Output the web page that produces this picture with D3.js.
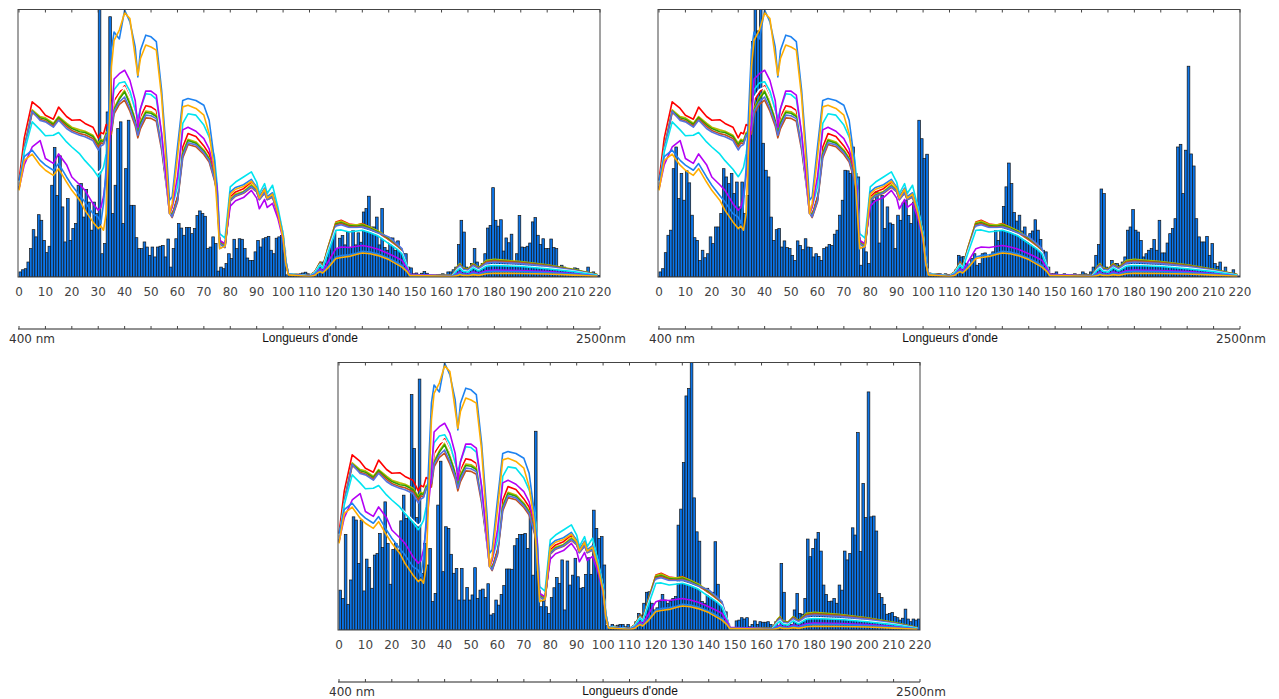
<!DOCTYPE html>
<html><head><meta charset="utf-8">
<script src="https://cdn.jsdelivr.net/npm/d3@7"></script>
<style>body{margin:0;background:#fff;} svg{display:block}</style>
</head><body>
<script>
// ---------- DATA ----------
const tickLabels = [0,10,20,30,40,50,60,70,80,90,100,110,120,130,140,150,160,170,180,190,200,210,220];
const wlStart = "400 nm", wlEnd = "2500nm", wlTitle = "Longueurs d'onde";

const panel1Bars = [
1.9,2.7,3.1,5.6,10.6,17.7,15,23.3,21.2,13.7,
9.1,11.5,34.3,48.4,30.5,45.3,26.2,13.1,29.3,13.7,
18.1,20,34.3,34.9,22.4,32.7,28,17.5,28,23.7,
110,8.7,12.5,61.7,97.3,23.7,34.3,55.5,58,20,
40.5,58.6,26.8,26.8,14.7,10.6,10.6,13.1,11.2,8.1,
11.2,7.5,11.2,11.5,11.8,7.5,14.2,3.7,10.6,14.3,
20,18.3,15.6,18.5,18.5,16.2,18.1,23,24.7,23.7,
22.7,10.6,11.2,15,12.5,2.2,3.7,3.1,5,8.7,
6.9,14.1,10.6,14.3,14.1,10.6,7.1,6.2,6.2,9.4,
13.7,11.2,14.3,14.7,15.2,10,8.7,14.5,15,15.5,
10,0.8,0.5,0.8,1,0.8,1.2,1.5,1.8,1.2,
0.8,1.0,1.8,3.7,5.6,4.8,7.5,10,14.3,17.5,
10.6,14.5,15.5,12,16.8,11,17.5,12,16.5,13,
24.3,25.6,30.2,18.7,18.7,22.4,12,25.6,11,10,
14.6,14.6,10,13.5,10.6,8.7,8.7,3.7,3.4,1.2,
1.5,0.8,1.4,2.0,1.4,0.5,0.5,0.5,0.8,1.0,
1.2,0.6,1.9,1.9,2.7,3.7,12.1,21.2,16.8,3.7,
3.1,5,10.6,5.6,3.7,5,8.7,18.3,19.3,33.4,
21.2,19,21.4,9.7,14.6,12.8,16,5.6,8.7,23,
11.2,11,11.5,12.7,20.6,22.2,15.6,12.1,14.3,10.6,
10.6,14.2,11,10.6,3.7,4.4,3.7,2.2,2.2,2.2,
3.4,3.1,1.2,1.2,1,3.7,1.5,1.9,0.5,0.6];

const panel2Bars = [
1.9,3.1,9.1,15.6,17.5,40.5,48.6,29.3,38.7,28.7,
39.7,35.2,23.1,14.7,13.7,6.2,10,7.2,8.7,15,
12.5,18.7,18.7,23.7,40.5,37.4,34.9,38.7,31.2,35.5,
26.2,35.5,23.7,30.5,60,88,102,92,101,50,
39.9,37.4,22.4,13.7,17.7,18.1,11.2,13.5,11,10.6,
8.1,6.2,13.5,11.8,10.2,14.3,11.2,11,7.5,8.7,
7.7,6.2,10.6,11.2,12.2,11.8,16,17.5,23.1,28.7,
39.9,39.7,38.7,48.6,38.7,37.4,4.4,11.2,9.4,5,
29.3,28.7,31.8,12.7,30.5,18.1,26.2,20.2,19.7,10.6,
23.1,21.2,27.7,28.7,23,20,28,27,58.6,51.7,
44.3,45.9,1.5,0.8,1.2,1.2,1.2,1.0,1.2,0.8,
1.0,1.2,2.7,8.1,7.5,7.7,5,3.7,6.9,8.7,
4.4,5,8.7,9,7.5,8.1,9.4,17.5,13.7,17.5,
26.4,33.7,42.6,34.9,24.1,20.9,23.1,17.2,18.7,14,
16.2,17.2,21.4,17.5,14,10,9.4,3.7,1.2,1.2,
1.9,0.6,0.6,1.2,1.0,0.6,1.0,1.2,0.6,1.0,
1.9,1.2,1.0,1.9,3.7,8.1,12.1,32.9,31.2,3.7,
3.1,6.2,5,5,4.4,5.6,7.5,17.5,18.7,25.2,
17.5,16.8,13.7,7.5,8.7,10,10.6,14,10,21.2,
9,9,12.7,16.2,18.1,21.8,48.6,49.6,31.2,47.4,
78.8,46,41.5,21.8,15,13.1,13.1,15.2,8.1,12.5,
5,4,5.6,2.2,3.7,1,0.4,2.7,0.6,0.4];

const panel3Bars = [
14.9,11.8,35.7,9.6,18.7,42.3,41.1,24.9,41.1,14.6,
26.5,23.4,15.6,28,28.6,36.1,30.8,47.9,32.4,17.1,
30.1,32.4,29.9,40.8,50.4,41.7,42.2,88,67.9,42,
93.8,21.2,32.4,24.3,30.5,10.6,13.7,46.7,63.1,21.8,
38.6,38,28.3,21.2,23,11.2,23,11.2,15.9,11.2,
13.1,23.3,11.8,14.9,15.3,12.1,17.3,5.6,6.1,11.2,
9.3,13.3,16.6,22.8,22.8,22.7,31.5,34.2,35.7,35.7,
36.1,30.5,43.2,20.5,74.3,21.8,8.7,10.8,8.7,6.2,
12.1,15.8,19.6,17.4,26.2,7.5,25.8,16.8,20.5,26.8,
19.9,15.6,15.9,20.8,27,20.8,44.8,38,34.2,34.9,
24.3,1.6,1.2,2.1,1.5,1.8,2.1,2.1,1.2,2.1,
0.5,0.9,3.1,6.2,5.6,10,14.1,14.3,10,7.5,
8.3,10.6,13.3,11.2,10,10.6,11.8,12.5,39.2,45.2,
62.6,87.5,90.3,103,49.4,36.7,33.2,10.6,10,15.6,
13.1,14.1,33,17.1,10.6,7.5,6.8,1.9,0.9,0.9,
3.4,3.7,4.6,4.1,4.6,1.2,2.1,3.4,2.1,3.1,
2.9,2.9,3.1,2.1,0.9,3.1,0.9,24.9,14.1,1.9,
1.6,2.1,7.5,13.7,6.2,5.9,11.8,34,27.4,30.5,
34,36.5,29.5,16.8,13.3,10.6,10.8,11.8,10,16.8,
14.9,29.5,26.2,28.6,38.2,35.5,73.8,29.3,54.8,42,
89,42.3,42.6,37,13.7,12.1,9.6,5.9,6.2,6.6,
5,4.6,3.7,4.4,7.8,4.1,3.1,4.1,3.7,4.1];

const curveBands = [
0,2,5,8,10,13,15,18,20,23,
25,28,30,31,32,33,35,36,38,40,
42,44,45,46,48,50,52,54,56,57,
58,60,62,64,67,70,72,74,75,76,
78,80,82,85,88,90,91,93,94,96,
98,100,101,102,110,112,113,114,115,117,
120,122,125,128,130,133,136,140,143,145,
147,148,164,166,167,168,170,172,174,177,
180,190,200,210,219];

const curveRed = [
36,52,65.5,63,60.5,59,63.5,60,58.6,58.8,
57.4,56,52,54,53.5,57,56,66,69,71.5,
67,61,55.5,60,64,63.6,62.3,51,35,26,
23.7,30,48.6,53.6,52.5,49,46,38.7,33.7,13.7,
11.8,30,31.8,33,35.5,33.7,30,33,30,31.2,
25,16.2,6.2,1.2,0.5,1.9,3.7,5.6,3.7,11,
20.6,21.2,19.8,19.4,20,18.5,17,14.3,11.8,10,
3.7,0.6,0.5,3.5,4.5,3,2.5,4.5,3,5.5,
6,5.3,4.2,2.6,0.8];
const curveOlive = [
34,48.5,62.5,60,59.5,57.5,60,57.5,56,55,
54.5,53,50,51.5,51,54,55,63,67,69.8,
65,59,54,58,62,61.8,60.5,49.5,34,25,
23,29,46.5,51.5,50.5,47.5,44.5,37.5,32.5,13,
11.5,29,31,32,34.5,32.5,29.5,32,29.5,30.5,
24,15.5,6,1.2,0.5,1.9,3.8,5.5,4,11,
20.4,20.9,19.6,19.5,19.8,18.6,17.2,14.5,12,10.2,
4,0.7,0.6,4,5,3.4,3,5,3.5,6.2,
6.6,5.8,4.6,2.9,0.9];
const curveGreen = [
33.5,48,62,59.5,59,57,59.6,57,55.5,54.3,
54,52.5,49.5,51,50.5,53.5,54.5,62.5,66.5,69.2,
64.5,58.5,53.5,57.5,61.5,61.2,60,49,33.5,24.7,
22.8,28.7,46,51,50,47,44,37,32,12.8,
11.3,28.7,30.6,31.7,34,32.2,29.2,31.7,29.2,30.2,
23.8,15.3,5.9,1.1,0.5,1.8,3.6,5.3,3.8,10.6,
19.9,20.4,19.2,19,19.4,18.2,16.8,14.1,11.7,9.9,
3.8,0.6,0.5,3.7,4.7,3.2,2.8,4.7,3.3,5.8,
6.2,5.5,4.4,2.7,0.8];
const curveBrown = [
33,47.5,61.5,59,58.3,56.5,59,56.3,54.8,53.6,
53.2,51.8,48.6,50.2,49.8,52.8,53.5,61,64.5,66.1,
62,56.5,52,55.5,59.5,59.3,58.2,47.5,32.5,24,
22.2,28,44.5,49.5,48.7,45.8,43,36.2,31.4,12.5,
11,28.3,30.2,31.3,33.5,31.8,28.9,31.3,28.9,29.8,
23.5,15,5.8,1.1,0.5,1.8,3.5,5.2,3.7,10.3,
19.5,20,18.9,18.7,19,17.9,16.5,13.9,11.5,9.7,
3.7,0.6,0.5,3.6,4.6,3.1,2.7,4.6,3.2,5.7,
6.1,5.4,4.3,2.6,0.8];
const curveRoyal = [
34,48,62,58.5,58,56,58.6,55.5,54.2,53,
52.4,51,47.5,49,49.5,53,55,62,65.5,67.3,
63,57.5,53,56.5,60.5,60.3,59.2,48.5,33,24.2,
22.5,28.5,45.3,50.2,49.4,46.5,43.6,36.6,31.8,12.6,
11.1,28.5,30.4,31.5,33.8,32,29,31.5,29,30,
23.6,15.1,5.8,1.1,0.5,1.7,3.4,5,3.6,10,
19.1,19.5,18.5,18.5,18.7,17.8,16.5,15,12.5,10.6,
4.2,0.7,0.5,3.3,4.3,2.9,2.5,4.3,3,5.2,
5.6,5,4,2.5,0.7];
const curveWhite = [
34,47,57,55,53,52,53,50,48,46,
44,41,39,40,42,47,60,67,70,71,
67,61,57,61,66,66,64.5,52,33,23.5,
25.5,33,55,59,58.5,55,51,44,34,15.5,
14,33,35,36.5,38.5,35,31,34.5,31,33.8,
25.8,16,6.4,1.2,0.4,1.6,3.2,4.7,3.3,9.5,
18.2,18.4,17.8,17.8,17.9,17,15.8,13.2,11,9.2,
3.8,0.6,0.4,2.8,3.6,2.4,2,3.6,2.5,4.4,
4.7,4.2,3.4,2.2,0.6];
const curveCyan = [
33,46.8,58,55,52.8,53,54,50.5,48.6,46,
43.5,40.3,37.5,39,41,46,62,70,72.5,73,
69.5,62.5,59.3,63,68.5,68.2,66.5,53.6,33.7,23.7,
26.2,33.7,57.4,61,60.5,56.8,52.4,44.9,34.9,16.2,
14.5,33.7,35.5,37.4,39.3,35.5,31.2,34.9,31.2,34.3,
26.2,16.2,6.5,1.2,0.4,1.5,3,4.5,3.2,9,
17.5,17.6,16.8,17.2,17.5,16.5,15.3,12.5,10.5,8.7,
3.7,0.6,0.4,2.5,3.3,2.2,1.8,3.4,2.3,4,
4.3,3.9,3.1,2,0.6];
const curveMagenta = [
33,42,48.6,51,44.3,42.5,46,42,37.4,34.5,
32.4,27.4,25,26,30,38,58,74,76,77.3,
73.5,66,56,63,69.5,69.5,68,53.6,33.7,23.7,
26.2,37.4,55,56,54.5,51.7,47.9,39.9,33.7,13.7,
12.5,26.5,28.5,29.7,32.4,29.5,25.5,29,26,27.5,
22,14,5.5,1,0.3,1,2,3,2.2,5.6,
10.6,11.2,11,11.5,11.8,11.2,10.4,8.7,7.3,6.2,
3.1,1,0.3,1.3,1.9,1.2,1,1.9,1.3,2.3,
2.6,2.4,2,1.3,0.4];
const curveDodger = [
36,45,47.4,43.6,41.8,39.9,42.4,37.4,34.3,30.5,
28,23.7,22.4,20,27.4,41,84.8,91.6,89,99.8,
95.4,86,74.8,84.8,90.4,89.8,88,69.8,43.6,28.7,
30,48.6,66,66.7,66,64.2,58.6,43.6,30,10.6,
11.8,31.8,33.5,34.5,36.5,33.5,30,33.2,30,31.5,
24.5,15,5.5,1,0.3,0.8,1.8,2.5,1.8,4,
7.5,8,8.3,9,9.6,9.3,8.6,7,5.5,4.3,
2.2,0.7,0.3,1,1.5,1,0.8,1.5,1,1.9,
2.1,2,1.7,1.1,0.4];
const curveOrange = [
32.4,43.6,45.9,41.8,39.9,38,40.5,35.5,32.4,28.7,
24.9,20.6,18.1,19,17.5,23.7,78.6,88.5,92.3,98.8,
96.6,82.3,75.4,81.7,86.7,86,84.8,67.3,38.7,23.7,
27.4,44.9,63.6,64.2,63,60.5,53.6,39.9,26.2,10.6,
11.5,31,32.8,33.8,35.8,33,29.5,32.8,29.5,31,
24,14.5,5,0.8,0.2,0.6,1.5,2,1.5,3.4,
6.9,7.3,7.7,8.5,9,8.7,8,6.5,4.8,3.7,
1.9,0.6,0.2,0.5,0.9,0.6,0.5,0.9,0.6,1.2,
1.4,1.3,1.1,0.7,0.3];

const curves = [
  {values: curveRed, color: "#ff0000"},
  {values: curveOlive, color: "#bcbc00"},
  {values: curveGreen, color: "#2ea000"},
  {values: curveBrown, color: "#c4501c"},
  {values: curveRoyal, color: "#5572e0"},
  {values: curveWhite, color: "#ffffff"},
  {values: curveCyan, color: "#00e4f0"},
  {values: curveMagenta, color: "#b400f5"},
  {values: curveDodger, color: "#1e82f0"},
  {values: curveOrange, color: "#ffad00"}
];

const panels = [
  {bars: panel1Bars, ox: 0, oy: 0},
  {bars: panel2Bars, ox: 640, oy: 0},
  {bars: panel3Bars, ox: 320, oy: 353}
];

// ---------- DRAW ----------
const svg = d3.select("body").append("svg").attr("width", 1279).attr("height", 699);
const L = 18, R = 600, T = 9.5, B = 277;

panels.forEach((p, pi) => {
  const g = svg.append("g").attr("transform", `translate(${p.ox},${p.oy})`);
  const x = d3.scaleLinear().domain([0, 220]).range([19, 600]);
  const y = d3.scaleLinear().domain([0, 100]).range([B, T]);
  const clipId = "clip" + pi;
  g.append("clipPath").attr("id", clipId).append("rect")
    .attr("x", L).attr("y", T).attr("width", R - L).attr("height", B - T);
  const plot = g.append("g").attr("clip-path", `url(#${clipId})`);

  plot.selectAll("rect.bar").data(p.bars).join("rect")
    .attr("class", "bar")
    .attr("x", (d, i) => x(i))
    .attr("width", (d, i) => x(i + 1) - x(i))
    .attr("y", d => y(d))
    .attr("height", d => y(0) - y(d))
    .attr("fill", "#0b74e8")
    .attr("stroke", "#141414")
    .attr("stroke-width", 0.7);

  const line = d3.line().x((d, i) => x(curveBands[i])).y(d => y(d));
  curves.forEach(c => {
    plot.append("path").attr("d", line(c.values))
      .attr("fill", "none").attr("stroke", c.color)
      .attr("stroke-width", 1.6).attr("stroke-linejoin", "round");
  });

  // box
  g.append("rect").attr("x", L).attr("y", T).attr("width", R - L).attr("height", B - T)
    .attr("fill", "none").attr("stroke", "#444").attr("stroke-width", 1);

  // top ticks
  g.selectAll("line.tt").data(tickLabels).join("line")
    .attr("x1", d => x(d)).attr("x2", d => x(d))
    .attr("y1", T).attr("y2", T + 3).attr("stroke", "#444");

  // tick labels
  g.selectAll("text.tl").data(tickLabels).join("text")
    .attr("x", d => x(d)).attr("y", 296)
    .attr("text-anchor", "middle")
    .attr("font-family", "DejaVu Sans")
    .attr("font-size", 12).attr("fill", "#444")
    .text(d => d);

  // wavelength axis
  const wy = 329;
  g.append("line").attr("x1", L).attr("x2", R).attr("y1", wy).attr("y2", wy)
    .attr("stroke", "#222").attr("stroke-width", 1);
  g.selectAll("line.wt").data(tickLabels).join("line")
    .attr("x1", d => x(d)).attr("x2", d => x(d))
    .attr("y1", wy).attr("y2", wy - 3).attr("stroke", "#444");
  g.append("text").attr("x", 9).attr("y", 342.5)
    .attr("font-family", "DejaVu Sans").attr("font-size", 12).attr("fill", "#333")
    .text(wlStart);
  g.append("text").attr("x", 576).attr("y", 342.5)
    .attr("font-family", "DejaVu Sans").attr("font-size", 12).attr("fill", "#333")
    .text(wlEnd);
  g.append("text").attr("x", 310).attr("y", 341.5).attr("text-anchor", "middle")
    .attr("font-family", "Liberation Sans").attr("font-size", 12).attr("fill", "#111")
    .text(wlTitle);
});
</script>
</body></html>
